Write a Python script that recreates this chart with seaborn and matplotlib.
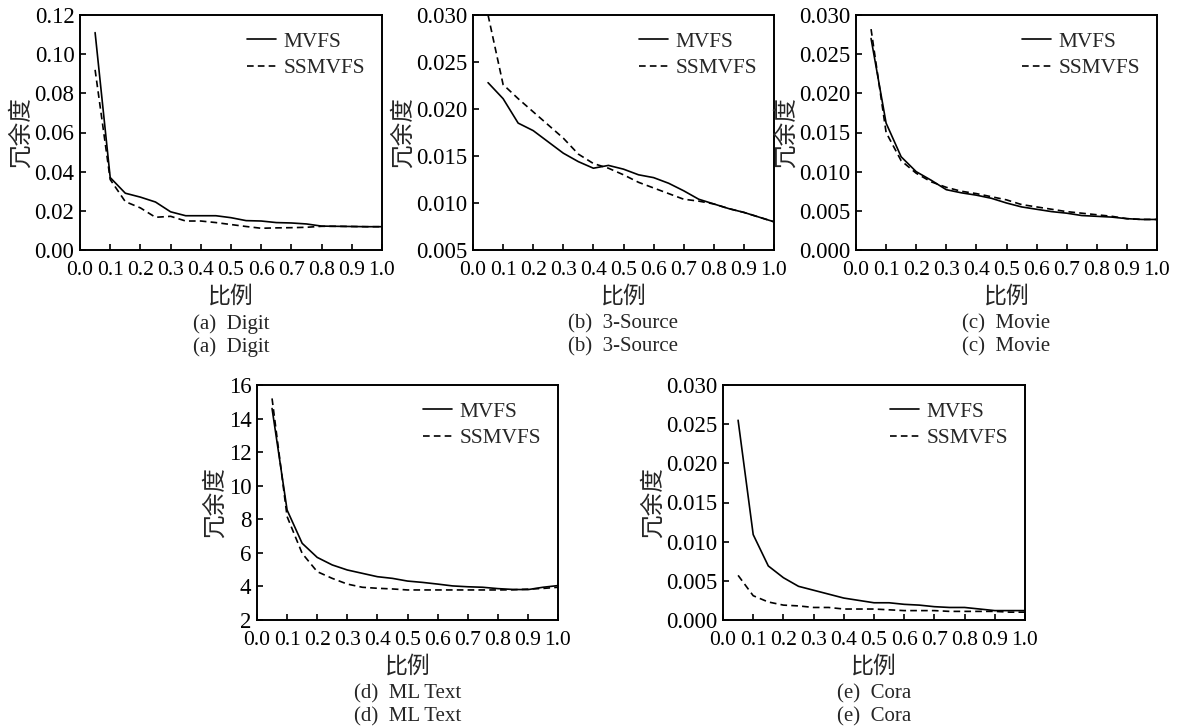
import pandas as pd
import matplotlib
matplotlib.use("Agg")
import matplotlib.pyplot as plt
import seaborn as sns

# Data
ratio = [0.05, 0.10, 0.15, 0.20, 0.25, 0.30, 0.35, 0.40, 0.45, 0.50,
         0.55, 0.60, 0.65, 0.70, 0.75, 0.80, 0.85, 0.90, 0.95, 1.00]

digit_mvfs = [0.111, 0.037, 0.029, 0.027, 0.0245, 0.0195, 0.0175, 0.0175, 0.0175, 0.0165,
              0.015, 0.0148, 0.014, 0.0138, 0.0133, 0.0122, 0.0121, 0.012, 0.0119, 0.0119]
digit_ssmvfs = [0.092, 0.036, 0.0247, 0.0215, 0.0167, 0.0172, 0.0148, 0.0148, 0.014, 0.013,
                0.012, 0.0111, 0.0113, 0.0114, 0.0116, 0.0121, 0.0121, 0.012, 0.0119, 0.0119]

source_mvfs = [0.0228, 0.0211, 0.0185, 0.0177, 0.0165, 0.0153, 0.0144, 0.0137, 0.0140, 0.0136,
               0.0130, 0.0127, 0.0121, 0.0113, 0.0104, 0.0099, 0.0094, 0.0090, 0.0085, 0.0080]
source_ssmvfs = [0.0300, 0.0226, 0.0211, 0.0197, 0.0183, 0.0169, 0.0152, 0.0142, 0.0137, 0.0130,
                 0.0122, 0.0116, 0.0110, 0.0104, 0.0102, 0.0099, 0.0094, 0.0090, 0.0085, 0.0080]

movie_mvfs = [0.0270, 0.0162, 0.0119, 0.0100, 0.0089, 0.0077, 0.0073, 0.0070, 0.0066, 0.0060,
              0.0055, 0.0052, 0.0049, 0.0047, 0.0044, 0.0043, 0.0042, 0.0040, 0.0039, 0.0039]
movie_ssmvfs = [0.0282, 0.0150, 0.0114, 0.0098, 0.0087, 0.0080, 0.0075, 0.0072, 0.0068, 0.0064,
                0.0058, 0.0055, 0.0052, 0.0049, 0.0047, 0.0045, 0.0043, 0.0040, 0.0039, 0.0039]

mltext_mvfs = [14.6, 8.55, 6.57, 5.73, 5.28, 4.98, 4.78, 4.58, 4.48, 4.32,
               4.24, 4.14, 4.03, 3.98, 3.95, 3.87, 3.82, 3.81, 3.95, 4.05]
mltext_ssmvfs = [15.2, 8.16, 5.97, 4.88, 4.48, 4.14, 3.95, 3.89, 3.85, 3.79,
                 3.79, 3.79, 3.79, 3.79, 3.79, 3.79, 3.80, 3.84, 3.88, 3.95]

cora_mvfs = [0.0255, 0.0109, 0.0069, 0.0054, 0.0043, 0.0038, 0.0033, 0.0028, 0.0025, 0.0022,
             0.0022, 0.0020, 0.0019, 0.0017, 0.0016, 0.0016, 0.0014, 0.0012, 0.0012, 0.0012]
cora_ssmvfs = [0.0057, 0.0031, 0.0023, 0.0019, 0.0018, 0.0016, 0.0016, 0.0014, 0.0014, 0.0014,
               0.0013, 0.0012, 0.0012, 0.0012, 0.0011, 0.0011, 0.0011, 0.0011, 0.0010, 0.0010]

methods = ["MVFS", "SSMVFS"]
captions = ["(a)  Digit", "(b)  3-Source", "(c)  Movie", "(d)  ML Text", "(e)  Cora"]
y_limits = [(0, 0.12), (0.005, 0.030), (0, 0.030), (2, 16), (0, 0.030)]
y_steps = [0.02, 0.005, 0.005, 2, 0.005]
y_formats = ["{:.2f}", "{:.3f}", "{:.3f}", "{:.0f}", "{:.3f}"]
x_ticks = [0.0, 0.1, 0.2, 0.3, 0.4, 0.5, 0.6, 0.7, 0.8, 0.9, 1.0]

series = [
    (digit_mvfs, digit_ssmvfs),
    (source_mvfs, source_ssmvfs),
    (movie_mvfs, movie_ssmvfs),
    (mltext_mvfs, mltext_ssmvfs),
    (cora_mvfs, cora_ssmvfs),
]

sns.set_theme(style="ticks")
plt.rcParams["font.family"] = ["Liberation Serif", "Noto Sans CJK SC"]
plt.rcParams["axes.unicode_minus"] = False

W, H = 1186, 728
fig = plt.figure(figsize=(W / 100, H / 100), dpi=100)

# axes boxes in pixels: left, top, right, bottom
boxes = [(80, 15, 382, 250), (473, 15, 774, 250), (856, 15, 1157, 250),
         (257, 385, 558, 620), (723, 385, 1025, 620)]

for i, (box, (mv, ss)) in enumerate(zip(boxes, series)):
    l, t, r, b = box
    ax = fig.add_axes([l / W, 1 - b / H, (r - l) / W, (b - t) / H])
    df = pd.DataFrame({
        "比例": ratio + ratio,
        "冗余度": mv + ss,
        "method": [methods[0]] * len(ratio) + [methods[1]] * len(ratio),
    })
    sns.lineplot(data=df, x="比例", y="冗余度", style="method",
                 dashes={"MVFS": "", "SSMVFS": (4, 2.5)}, color="black",
                 linewidth=1.2, legend=False, ax=ax)
    ax.legend(ax.lines, methods, loc="upper right", frameon=False, fontsize=15.3,
              handlelength=1.35, handletextpad=0.35, labelspacing=0.3,
              borderaxespad=0.4)

    lo, hi = y_limits[i]
    ax.set_xlim(0, 1.0)
    ax.set_ylim(lo, hi)
    n = int(round((hi - lo) / y_steps[i]))
    yt = [lo + k * y_steps[i] for k in range(n + 1)]
    ax.set_yticks(yt)
    ax.set_yticklabels([y_formats[i].format(v) for v in yt])
    ax.set_xticks(x_ticks)
    ax.set_xticklabels(["{:.1f}".format(v) for v in x_ticks])
    ax.tick_params(direction="in", length=4, width=1.2, colors="black")
    ax.tick_params(axis="y", labelsize=16.5, pad=4)
    ax.tick_params(axis="x", labelsize=15.5, pad=8)
    for s in ax.spines.values():
        s.set_linewidth(1.4)
        s.set_color("black")
    ax.set_xlabel("比例", fontsize=16.5, labelpad=4)
    ax.set_ylabel("冗余度", fontsize=17, labelpad=1)
    for off in (-74, -97):
        ax.annotate(captions[i], xy=(0.5, 0), xycoords="axes fraction",
                    xytext=(0, off * 0.72), textcoords="offset points",
                    ha="center", va="center", fontsize=15)

fig.savefig("out.png", dpi=100, facecolor="white")
